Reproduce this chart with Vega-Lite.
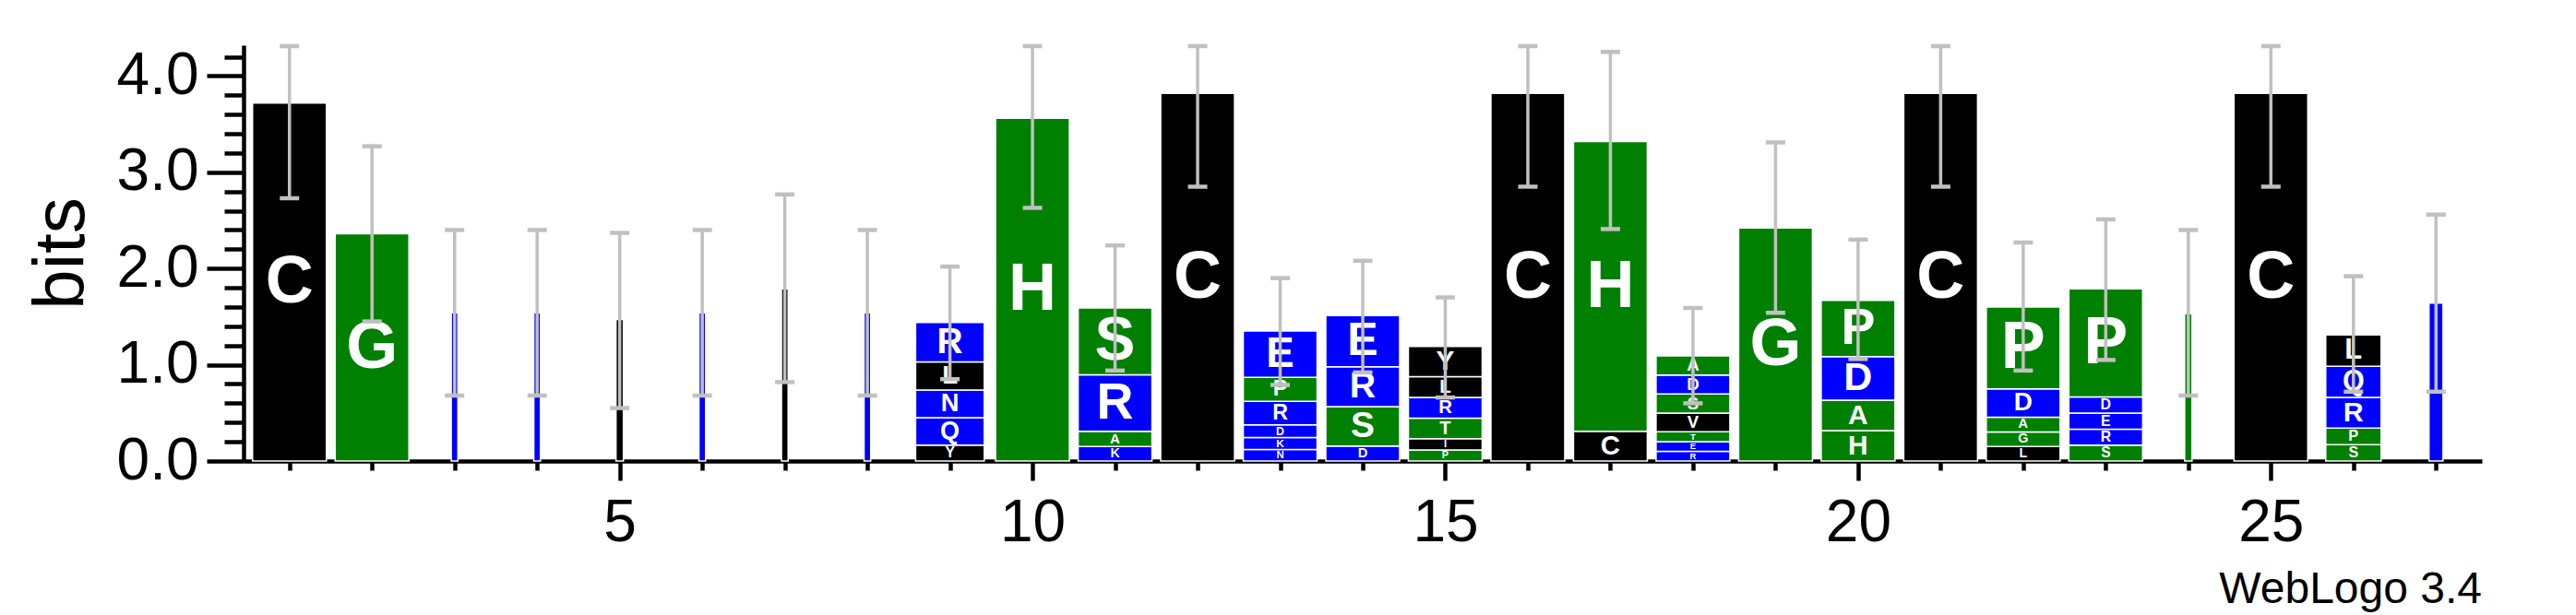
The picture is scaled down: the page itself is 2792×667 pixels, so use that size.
{
  "$schema": "https://vega.github.io/schema/vega-lite/v6.json",
  "width": 2426,
  "height": 451,
  "autosize": {"type": "none"},
  "padding": {"left": 264, "top": 49, "right": 102, "bottom": 167},
  "background": "white",
  "config": {
    "view": {"stroke": null},
    "font": "Liberation Sans",
    "axis": {"labelFlush": false, "grid": false, "labelFont": "Liberation Sans", "labelColor": "black", "tickColor": "black", "domainColor": "black", "tickWidth": 4.5, "domainWidth": 4.5},
    "axisY": {"labelFontSize": 64, "labelPadding": 9, "titleFontSize": 78, "titleFont": "Liberation Sans", "titleFontWeight": "normal", "titleColor": "black", "titlePadding": 20},
    "axisX": {"labelOverlap": false, "labelFontSize": 64, "labelPadding": 14}
  },
  "title": {"text": "WebLogo 3.4", "orient": "bottom", "anchor": "end", "fontSize": 48, "fontWeight": "normal", "font": "Liberation Sans", "color": "black", "offset": 17},
  "datasets": {
    "letters": [
      {"pos": 1, "letter": "C", "bits": 3.72, "weight": 1},
      {"pos": 2, "letter": "G", "bits": 2.36, "weight": 1},
      {"pos": 3, "letter": "R", "bits": 1.54, "weight": 0.09},
      {"pos": 4, "letter": "R", "bits": 1.54, "weight": 0.09},
      {"pos": 5, "letter": "L", "bits": 1.47, "weight": 0.1},
      {"pos": 6, "letter": "R", "bits": 1.54, "weight": 0.09},
      {"pos": 7, "letter": "V", "bits": 1.79, "weight": 0.09},
      {"pos": 8, "letter": "R", "bits": 1.54, "weight": 0.09},
      {"pos": 9, "letter": "Y", "bits": 0.165, "weight": 0.93},
      {"pos": 9, "letter": "Q", "bits": 0.285, "weight": 0.93},
      {"pos": 9, "letter": "N", "bits": 0.288, "weight": 0.93},
      {"pos": 9, "letter": "L", "bits": 0.292, "weight": 0.93},
      {"pos": 9, "letter": "R", "bits": 0.41, "weight": 0.93},
      {"pos": 10, "letter": "H", "bits": 3.56, "weight": 1},
      {"pos": 11, "letter": "K", "bits": 0.15, "weight": 1},
      {"pos": 11, "letter": "A", "bits": 0.16, "weight": 1},
      {"pos": 11, "letter": "R", "bits": 0.585, "weight": 1},
      {"pos": 11, "letter": "S", "bits": 0.695, "weight": 1},
      {"pos": 12, "letter": "C", "bits": 3.82, "weight": 1},
      {"pos": 13, "letter": "N", "bits": 0.12, "weight": 1},
      {"pos": 13, "letter": "K", "bits": 0.125, "weight": 1},
      {"pos": 13, "letter": "D", "bits": 0.13, "weight": 1},
      {"pos": 13, "letter": "R", "bits": 0.245, "weight": 1},
      {"pos": 13, "letter": "P", "bits": 0.25, "weight": 1},
      {"pos": 13, "letter": "E", "bits": 0.48, "weight": 1},
      {"pos": 14, "letter": "D", "bits": 0.155, "weight": 1},
      {"pos": 14, "letter": "S", "bits": 0.41, "weight": 1},
      {"pos": 14, "letter": "R", "bits": 0.415, "weight": 1},
      {"pos": 14, "letter": "E", "bits": 0.53, "weight": 1},
      {"pos": 15, "letter": "P", "bits": 0.115, "weight": 1},
      {"pos": 15, "letter": "I", "bits": 0.117, "weight": 1},
      {"pos": 15, "letter": "T", "bits": 0.213, "weight": 1},
      {"pos": 15, "letter": "R", "bits": 0.215, "weight": 1},
      {"pos": 15, "letter": "L", "bits": 0.217, "weight": 1},
      {"pos": 15, "letter": "Y", "bits": 0.313, "weight": 1},
      {"pos": 16, "letter": "C", "bits": 3.82, "weight": 1},
      {"pos": 17, "letter": "C", "bits": 0.31, "weight": 1},
      {"pos": 17, "letter": "H", "bits": 3.01, "weight": 1},
      {"pos": 18, "letter": "R", "bits": 0.1, "weight": 1},
      {"pos": 18, "letter": "E", "bits": 0.101, "weight": 1},
      {"pos": 18, "letter": "T", "bits": 0.102, "weight": 1},
      {"pos": 18, "letter": "V", "bits": 0.196, "weight": 1},
      {"pos": 18, "letter": "S", "bits": 0.197, "weight": 1},
      {"pos": 18, "letter": "D", "bits": 0.198, "weight": 1},
      {"pos": 18, "letter": "A", "bits": 0.199, "weight": 1},
      {"pos": 19, "letter": "G", "bits": 2.42, "weight": 1},
      {"pos": 20, "letter": "H", "bits": 0.315, "weight": 1},
      {"pos": 20, "letter": "A", "bits": 0.316, "weight": 1},
      {"pos": 20, "letter": "D", "bits": 0.454, "weight": 1},
      {"pos": 20, "letter": "P", "bits": 0.585, "weight": 1},
      {"pos": 21, "letter": "C", "bits": 3.82, "weight": 1},
      {"pos": 22, "letter": "L", "bits": 0.15, "weight": 1},
      {"pos": 22, "letter": "G", "bits": 0.152, "weight": 1},
      {"pos": 22, "letter": "A", "bits": 0.153, "weight": 1},
      {"pos": 22, "letter": "D", "bits": 0.295, "weight": 1},
      {"pos": 22, "letter": "P", "bits": 0.85, "weight": 1},
      {"pos": 23, "letter": "S", "bits": 0.165, "weight": 1},
      {"pos": 23, "letter": "R", "bits": 0.166, "weight": 1},
      {"pos": 23, "letter": "E", "bits": 0.167, "weight": 1},
      {"pos": 23, "letter": "D", "bits": 0.168, "weight": 1},
      {"pos": 23, "letter": "P", "bits": 1.124, "weight": 1},
      {"pos": 24, "letter": "T", "bits": 1.53, "weight": 0.1},
      {"pos": 25, "letter": "C", "bits": 3.82, "weight": 1},
      {"pos": 26, "letter": "S", "bits": 0.17, "weight": 0.75},
      {"pos": 26, "letter": "P", "bits": 0.172, "weight": 0.75},
      {"pos": 26, "letter": "R", "bits": 0.32, "weight": 0.75},
      {"pos": 26, "letter": "Q", "bits": 0.322, "weight": 0.75},
      {"pos": 26, "letter": "L", "bits": 0.326, "weight": 0.75},
      {"pos": 27, "letter": "E", "bits": 1.64, "weight": 0.19}
    ],
    "errs": [
      {"pos": 1, "lo": 2.73, "hi": 4.31},
      {"pos": 2, "lo": 1.45, "hi": 3.27},
      {"pos": 3, "lo": 0.68, "hi": 2.40},
      {"pos": 4, "lo": 0.68, "hi": 2.40},
      {"pos": 5, "lo": 0.55, "hi": 2.37},
      {"pos": 6, "lo": 0.68, "hi": 2.40},
      {"pos": 7, "lo": 0.82, "hi": 2.77},
      {"pos": 8, "lo": 0.68, "hi": 2.40},
      {"pos": 9, "lo": 0.85, "hi": 2.02},
      {"pos": 10, "lo": 2.63, "hi": 4.31},
      {"pos": 11, "lo": 0.94, "hi": 2.24},
      {"pos": 12, "lo": 2.85, "hi": 4.31},
      {"pos": 13, "lo": 0.79, "hi": 1.90},
      {"pos": 14, "lo": 0.92, "hi": 2.08},
      {"pos": 15, "lo": 0.66, "hi": 1.70},
      {"pos": 16, "lo": 2.85, "hi": 4.31},
      {"pos": 17, "lo": 2.41, "hi": 4.25},
      {"pos": 18, "lo": 0.60, "hi": 1.59},
      {"pos": 19, "lo": 1.54, "hi": 3.31},
      {"pos": 20, "lo": 1.06, "hi": 2.30},
      {"pos": 21, "lo": 2.85, "hi": 4.31},
      {"pos": 22, "lo": 0.94, "hi": 2.27},
      {"pos": 23, "lo": 1.05, "hi": 2.51},
      {"pos": 24, "lo": 0.68, "hi": 2.40},
      {"pos": 25, "lo": 2.85, "hi": 4.31},
      {"pos": 26, "lo": 0.72, "hi": 1.92},
      {"pos": 27, "lo": 0.72, "hi": 2.56}
    ]
  },
  "encoding": {
    "x": {
      "field": "pos",
      "type": "quantitative",
      "title": null,
      "scale": {"domain": [0.5, 27.5], "nice": false, "zero": false},
      "axis": {
        "values": [1,2,3,4,5,6,7,8,9,10,11,12,13,14,15,16,17,18,19,20,21,22,23,24,25,26,27],
        "labelExpr": "datum.value % 5 === 0 ? datum.label : ''",
        "tickSize": {"condition": {"test": "datum.value % 5 === 0", "value": 21}, "value": 10}
      }
    }
  },
  "resolve": {"scale": {"size": "independent"}, "axis": {"y": "independent"}},
  "layer": [
    {
      "data": {"name": "letters"},
      "mark": {"type": "bar", "orient": "vertical", "stroke": "white", "strokeWidth": 1.5},
      "encoding": {
        "y": {
          "field": "bits",
          "type": "quantitative",
          "stack": "zero",
          "title": "bits",
          "scale": {"domain": [0, 4.32], "nice": false},
          "axis": {
            "orient": "left",
            "values": [0, 1, 2, 3, 4],
            "format": ".1f",
            "tickSize": 40,
            "labelOverlap": false
          }
        },
        "order": {"field": "bits", "sort": "ascending"},
        "color": {
          "field": "letter",
          "type": "nominal",
          "legend": null,
          "scale": {
            "domain": ["A","C","D","E","G","H","I","K","L","N","P","Q","R","S","T","V","Y"],
            "range": ["#008000","#000000","#0000ff","#0000ff","#008000","#008000","#000000","#0000ff","#000000","#0000ff","#008000","#0000ff","#0000ff","#008000","#008000","#000000","#000000"]
          }
        },
        "size": {"field": "weight", "type": "quantitative", "legend": null, "scale": {"domain": [0, 1], "range": [0, 80]}}
      }
    },
    {
      "data": {"name": "letters"},
      "transform": [{"filter": "datum.weight > 0.5"}],
      "mark": {"type": "text", "font": "Liberation Sans", "fontWeight": "bold", "color": "white", "baseline": "middle", "align": "center"},
      "encoding": {
        "y": {"field": "bits", "type": "quantitative", "stack": "zero", "bandPosition": 0.5, "axis": null},
        "order": {"field": "bits", "sort": "ascending"},
        "detail": {"field": "letter"},
        "text": {"field": "letter"},
        "size": {"field": "bits", "type": "quantitative", "legend": null, "scale": {"domain": [0, 0.76], "range": [0, 72], "clamp": true}}
      }
    },
    {
      "data": {"name": "errs"},
      "mark": {"type": "rule", "color": "#c0c0c0", "strokeWidth": 3.5},
      "encoding": {
        "y": {
          "field": "lo",
          "type": "quantitative",
          "axis": {
            "orient": "left",
            "title": null,
            "values": [0.2, 0.4, 0.6, 0.8, 1.2, 1.4, 1.6, 1.8, 2.2, 2.4, 2.6, 2.8, 3.2, 3.4, 3.6, 3.8, 4.2],
            "labels": false,
            "domain": false,
            "tickSize": 21
          }
        },
        "y2": {"field": "hi"}
      }
    },
    {
      "data": {"name": "errs"},
      "mark": {"type": "tick", "orient": "horizontal", "color": "#c0c0c0", "size": 21, "thickness": 4.5, "opacity": 1},
      "encoding": {
        "y": {"field": "hi", "type": "quantitative", "axis": null}
      }
    },
    {
      "data": {"name": "errs"},
      "mark": {"type": "tick", "orient": "horizontal", "color": "#c0c0c0", "size": 21, "thickness": 4.5, "opacity": 1},
      "encoding": {
        "y": {"field": "lo", "type": "quantitative", "axis": null}
      }
    }
  ]
}
